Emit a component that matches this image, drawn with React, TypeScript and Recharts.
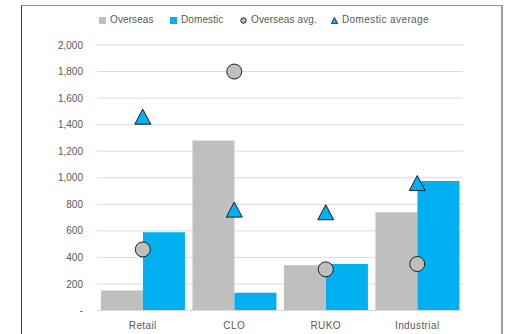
import React from 'react';
import { ComposedChart, Bar, Line, XAxis, YAxis, CartesianGrid } from 'recharts';

const categories = ['Retail', 'CLO', 'RUKO', 'Industrial'];
const overseas = [150, 1280, 340, 740];
const domestic = [590, 133, 350, 975];
const overseasAvg = [460, 1800, 310, 350];
const domesticAvg = [1460, 760, 740, 960];
const yTicks = [0, 200, 400, 600, 800, 1000, 1200, 1400, 1600, 1800, 2000];

const data = categories.map((name, i) => ({
  name,
  overseas: overseas[i],
  domestic: domestic[i],
  overseasAvg: overseasAvg[i],
  domesticAvg: domesticAvg[i],
}));

const GREY = '#bfbfbf';
const BLUE = '#00b0f0';
const TEXT = '#595959';
const FONT = '"Liberation Sans", Arial, sans-serif';

const fmtTick = (v: number) => (v === 0 ? '-' : v.toLocaleString('en-US'));

const CircleDot = (props: any) => {
  const { cx, cy } = props;
  if (cx == null || cy == null) return null;
  return <circle cx={cx} cy={cy} r={7.5} fill={GREY} stroke="#1f1f1f" strokeWidth={1} />;
};

const TriangleDot = (props: any) => {
  const { cx, cy } = props;
  if (cx == null || cy == null) return null;
  const h = 15;
  const w = 16;
  const pts = `${cx},${cy - h / 2} ${cx + w / 2},${cy + h / 2} ${cx - w / 2},${cy + h / 2}`;
  return <polygon points={pts} fill={BLUE} stroke="#1f1f1f" strokeWidth={1} strokeLinejoin="miter" />;
};

// legend entries, each with the slot width it takes in the row
const legendItems = [
  { label: 'Overseas', icon: 'sq', color: GREY, slot: 71 },
  { label: 'Domestic', icon: 'sq', color: BLUE, slot: 70 },
  { label: 'Overseas avg.', icon: 'circle', color: GREY, slot: 91 },
  { label: 'Domestic average', icon: 'tri', color: BLUE, slot: 100 },
];

const LegendBox = () => (
  <div
    style={{
      position: 'absolute',
      left: 99,
      top: 14,
      display: 'flex',
      alignItems: 'center',
      fontFamily: FONT,
      fontSize: 10,
      lineHeight: '12px',
      color: TEXT,
    }}
  >
    {legendItems.map((it) => (
      <div key={it.label} style={{ display: 'flex', alignItems: 'center', width: it.slot }}>
        <svg width={7} height={7} style={{ marginRight: 4 }}>
          {it.icon === 'sq' && <rect x={0} y={0} width={7} height={7} fill={it.color} />}
          {it.icon === 'circle' && <circle cx={3.5} cy={3.5} r={2.7} fill={it.color} stroke="#1f1f1f" strokeWidth={1} />}
          {it.icon === 'tri' && <polygon points="3.5,0.5 6.7,6.5 0.3,6.5" fill={it.color} stroke="#1f1f1f" strokeWidth={0.8} />}
        </svg>
        <span style={{ letterSpacing: it.label.length > 14 ? 0.4 : 0.1, whiteSpace: 'nowrap' }}>{it.label}</span>
      </div>
    ))}
  </div>
);

export default function App() {
  return (
    <div style={{ position: 'absolute', left: 0, top: 0, width: 506, height: 334, background: '#fff', overflow: 'hidden' }}>
      <div
        style={{
          position: 'absolute',
          left: 21,
          top: 5,
          width: 479,
          height: 340,
          borderLeft: '1px solid #333b44',
          borderTop: '1px solid #8e939a',
          borderRight: '2px solid #9a9ea5',
        }}
      />
      <ComposedChart
        width={506}
        height={334}
        data={data}
        margin={{ top: 45, right: 43, bottom: 3.5, left: 21 }}
        barCategoryGap="4.3%"
        barGap={0}
        style={{ position: 'absolute', left: 0, top: 0 }}
      >
        <CartesianGrid vertical={false} stroke="#d9d9d9" strokeWidth={1} />
        <XAxis
          dataKey="name"
          axisLine={{ stroke: '#d9d9d9' }}
          tickLine={false}
          height={20}
          tickMargin={5}
          tick={{ fill: TEXT, fontSize: 10, fontFamily: FONT, letterSpacing: 0.4 }}
        />
        <YAxis
          width={76}
          domain={[0, 2000]}
          ticks={yTicks}
          interval={0}
          axisLine={false}
          tickLine={false}
          tickMargin={8}
          tickFormatter={fmtTick}
          tick={{ fill: TEXT, fontSize: 10, fontFamily: FONT }}
        />
        <Bar dataKey="overseas" name="Overseas" fill={GREY} isAnimationActive={false} />
        <Bar dataKey="domestic" name="Domestic" fill={BLUE} isAnimationActive={false} />
        <Line dataKey="overseasAvg" name="Overseas avg." stroke="none" dot={<CircleDot />} activeDot={false} isAnimationActive={false} />
        <Line dataKey="domesticAvg" name="Domestic average" stroke="none" dot={<TriangleDot />} activeDot={false} isAnimationActive={false} />
      </ComposedChart>
      <LegendBox />
    </div>
  );
}
